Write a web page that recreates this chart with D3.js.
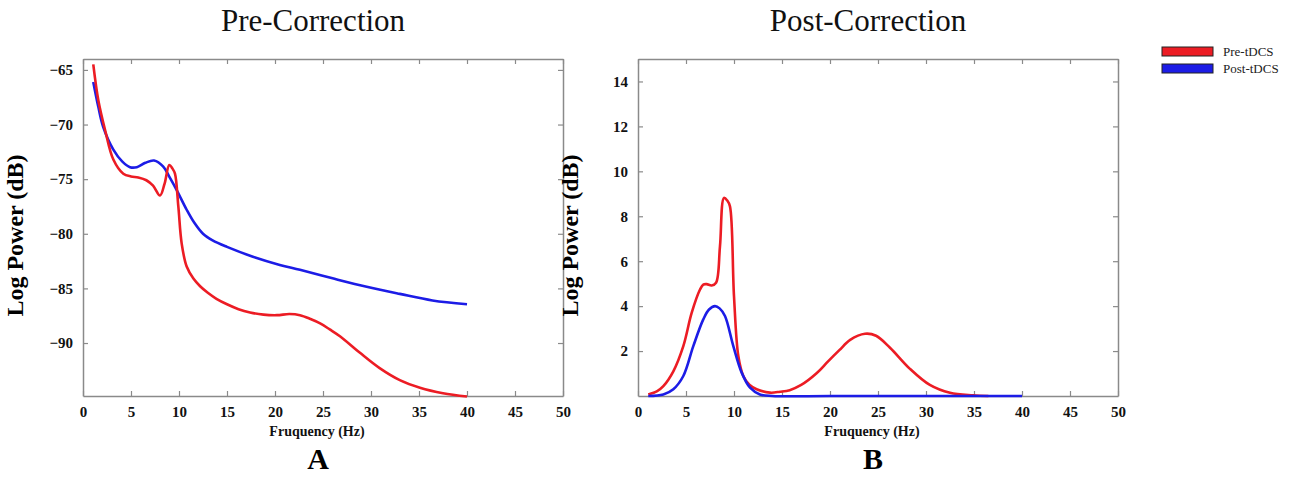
<!DOCTYPE html>
<html><head><meta charset="utf-8">
<script src="https://cdn.jsdelivr.net/npm/d3@7"></script>
<style>
body{margin:0;background:#fff;}
svg{display:block;font-family:"Liberation Serif","Times New Roman",serif;}
</style></head>
<body><svg id="c" width="1301" height="477"></svg>
<script>
// ---- Data ----
const xTicks = [0,5,10,15,20,25,30,35,40,45,50];
const yTicksA = [-65,-70,-75,-80,-85,-90];
const yTicksB = [2,4,6,8,10,12,14];
const seriesNames = ["Pre-tDCS","Post-tDCS"];

// Panel A: Pre-Correction
const preFreqA = [1.07,1.6,2.3,3.16,4.2,5.0,5.76,6.6,7.3,8.02,8.5,8.99,9.3,9.58,9.93,10.28,10.8,11.5,12.2,13.0,13.9,15.0,16.2,17.4,18.8,20.2,21.5,22.6,23.7,24.7,25.7,26.8,28.85,30.9,33.0,35.1,37.5,40];
const preValA  = [-64.5,-67.8,-70.5,-73.2,-74.5,-74.75,-74.85,-75.1,-75.6,-76.5,-75.4,-73.7,-74.0,-74.5,-77.5,-80.9,-83.0,-84.1,-84.8,-85.4,-85.95,-86.45,-86.9,-87.2,-87.4,-87.45,-87.35,-87.45,-87.8,-88.2,-88.75,-89.4,-90.9,-92.3,-93.4,-94.1,-94.6,-94.9];
const postFreqA = [1.07,1.6,2.1,3.16,4.1,4.9,5.6,6.5,7.4,8.36,9.0,9.76,10.8,11.6,12.5,13.5,15.0,17.7,20.5,22.6,26.1,29.55,33.0,36.4,40];
const postValA  = [-66.1,-68.4,-70.2,-72.3,-73.4,-73.9,-73.9,-73.5,-73.3,-73.85,-74.8,-76.0,-77.8,-79.0,-80.0,-80.6,-81.2,-82.1,-82.85,-83.3,-84.1,-84.85,-85.5,-86.1,-86.45];

// Panel B: Post-Correction
const preFreqB = [1.07,2.0,2.64,3.68,4.72,5.59,6.46,6.8,7.15,7.67,8.13,8.54,8.96,9.3,9.58,10.0,10.45,10.97,11.6,12.36,13.75,14.8,15.8,17.0,18.6,19.8,21.0,22.1,23.65,24.8,26.25,28.3,30.4,32.5,34.9,36.5];
const preValB  = [0.07,0.22,0.44,1.1,2.22,3.7,4.74,4.96,4.98,4.92,5.04,6.67,8.82,8.7,8.44,4.44,1.78,0.89,0.5,0.3,0.15,0.19,0.26,0.49,1.01,1.54,2.05,2.5,2.77,2.68,2.15,1.22,0.49,0.14,0.03,0.0];
const postFreqB = [1.07,2.64,3.68,4.72,5.76,6.8,7.4,8.02,8.5,9.06,9.93,10.8,11.67,12.7,14.0,20,30,40];
const postValB  = [0.0,0.07,0.3,0.89,2.22,3.41,3.85,4.0,3.9,3.56,2.22,1.04,0.37,0.07,0.0,0.0,0.0,0.0];

const colors = ["#ec1c24","#1c1ce6"];

// ---- Drawing ----
const svg = d3.select("#c");
const axisCol = "#8a8a8a";

function panel(opt){
  const {x0,x1,y0,y1,yDomain,yTicks,series,title,letter} = opt;
  const x = d3.scaleLinear().domain([0,50]).range([x0,x1]);
  const y = d3.scaleLinear().domain(yDomain).range([y1,y0]);
  const g = svg.append("g");
  const tl = 5;
  const mk = (ax, tr) => {
    const a = g.append("g").attr("transform",tr).call(ax);
    a.select(".domain").attr("stroke",axisCol).attr("stroke-width",1.5);
    a.selectAll(".tick line").attr("stroke",axisCol).attr("stroke-width",1.2);
    a.selectAll("text").attr("font-family","'Liberation Serif',serif").attr("font-weight","bold").attr("font-size",15).attr("fill","#111");
    return a;
  };
  mk(d3.axisBottom(x).tickValues(xTicks).tickSizeInner(-tl).tickSizeOuter(0).tickPadding(10), `translate(0,${y1})`);
  const top = mk(d3.axisTop(x).tickValues(xTicks).tickSizeInner(-tl).tickSizeOuter(0), `translate(0,${y0})`);
  top.selectAll("text").remove();
  mk(d3.axisLeft(y).tickValues(yTicks).tickSizeInner(-tl).tickSizeOuter(0).tickPadding(10), `translate(${x0},0)`);
  const right = mk(d3.axisRight(y).tickValues(yTicks).tickSizeInner(-tl).tickSizeOuter(0), `translate(${x1},0)`);
  right.selectAll("text").remove();
  const line = d3.line().x(d=>x(d[0])).y(d=>y(d[1])).curve(d3.curveCatmullRom.alpha(0.5));
  series.forEach(s=>{
    const pts = s.f.map((f,k)=>[f,s.v[k]]);
    g.append("path").datum(pts).attr("d",line).attr("fill","none")
      .attr("stroke",colors[s.c]).attr("stroke-width",2.6).attr("stroke-linejoin","round");
  });
  const cx = (x0+x1)/2;
  g.append("text").attr("x",cx-10).attr("y",31).attr("text-anchor","middle")
    .attr("font-size",31).attr("fill","#111").text(title);
  g.append("text").attr("transform",`translate(${x0-60},${(y0+y1)/2+8}) rotate(-90)`)
    .attr("text-anchor","middle").attr("font-weight","bold").attr("font-size",24).attr("fill","#000").text("Log Power (dB)");
  g.append("text").attr("x",cx-6).attr("y",436).attr("text-anchor","middle")
    .attr("font-weight","bold").attr("font-size",14).attr("fill","#111").text("Fruquency (Hz)");
  g.append("text").attr("x",cx-5).attr("y",469).attr("text-anchor","middle")
    .attr("font-weight","bold").attr("font-size",30).attr("fill","#000").text(letter);
}

panel({x0:83,x1:563,y0:59,y1:396,yDomain:[-94.85,-64],yTicks:yTicksA,title:"Pre-Correction",letter:"A",
  series:[{f:postFreqA,v:postValA,c:1},{f:preFreqA,v:preValA,c:0}]});
panel({x0:638,x1:1118,y0:59,y1:396,yDomain:[0,15],yTicks:yTicksB,title:"Post-Correction",letter:"B",
  series:[{f:preFreqB,v:preValB,c:0},{f:postFreqB,v:postValB,c:1}]});

const leg = svg.append("g");
seriesNames.forEach((n,i)=>{
  leg.append("rect").attr("x",1162).attr("y",47+i*17).attr("width",51).attr("height",9)
    .attr("fill",colors[i]).attr("stroke","#222").attr("stroke-width",1);
  leg.append("text").attr("x",1223).attr("y",56+i*17).attr("font-size",13).attr("fill","#222").text(n);
});
</script></body></html>
